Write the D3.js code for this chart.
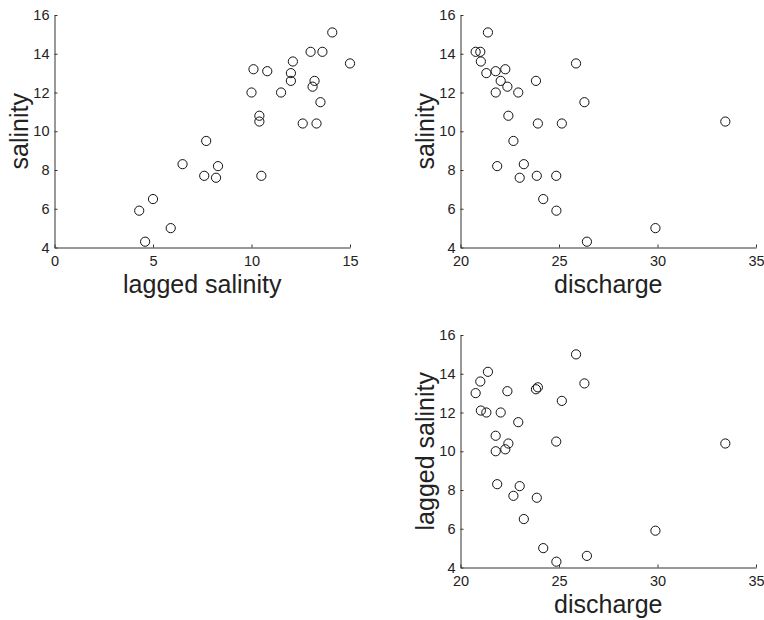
<!DOCTYPE html>
<html>
<head>
<meta charset="utf-8">
<script src="https://cdn.jsdelivr.net/npm/d3@7"></script>
<style>
  html, body { margin: 0; padding: 0; background: #fff; }
  svg { display: block; }
  text { font-family: "Liberation Sans", Arial, Helvetica, sans-serif; fill: #222; }
</style>
</head>
<body>
<svg id="chart" width="764" height="620"></svg>
<script>
// Salinity data (28 observations)
const laggedSalinity = [8.2, 7.6, 4.6, 4.3, 5.9, 5.0, 6.5, 8.3, 10.1, 13.2, 12.6, 10.4, 10.8, 13.1,
                        13.3, 10.4, 10.5, 7.7, 10.0, 12.0, 12.1, 13.6, 15.0, 13.5, 11.5, 12.0, 13.0, 14.1];
const discharge = [23.005, 23.873, 26.417, 24.868, 29.895, 24.200, 23.215, 21.862, 22.274, 23.830,
                   25.144, 22.430, 21.785, 22.380, 23.927, 33.443, 24.859, 22.686, 21.789, 22.041,
                   21.033, 21.005, 25.865, 26.290, 22.932, 21.313, 20.769, 21.393];
const salinity = [7.6, 7.7, 4.3, 5.9, 5.0, 6.5, 8.3, 8.2, 13.2, 12.6, 10.4, 10.8, 13.1, 12.3,
                  10.4, 10.5, 7.7, 9.5, 12.0, 12.6, 13.6, 14.1, 13.5, 11.5, 12.0, 13.0, 14.1, 15.1];

const salinityTicks = [4, 6, 8, 10, 12, 14, 16];
const laggedTicks = [0, 5, 10, 15];
const dischargeTicks = [20, 25, 30, 35];

const svg = d3.select("#chart");

const panels = [
  { x: laggedSalinity, y: salinity, xDom: [0, 15], yDom: [4, 16], xTicks: laggedTicks, yTicks: salinityTicks,
    xr: [54.5, 350], yr: [247.5, 15], xLabel: "lagged salinity", yLabel: "salinity" },
  { x: discharge, y: salinity, xDom: [20, 35], yDom: [4, 16], xTicks: dischargeTicks, yTicks: salinityTicks,
    xr: [460.5, 756], yr: [247.5, 15], xLabel: "discharge", yLabel: "salinity" },
  { x: discharge, y: laggedSalinity, xDom: [20, 35], yDom: [4, 16], xTicks: dischargeTicks, yTicks: salinityTicks,
    xr: [460.5, 756], yr: [567.5, 335], xLabel: "discharge", yLabel: "lagged salinity" }
];

panels.forEach(p => {
  const xs = d3.scaleLinear().domain(p.xDom).range(p.xr);
  const ys = d3.scaleLinear().domain(p.yDom).range(p.yr);
  const g = svg.append("g");

  const xAxis = d3.axisBottom(xs).tickValues(p.xTicks).tickSizeInner(-3).tickSizeOuter(0).tickPadding(8);
  const yAxis = d3.axisLeft(ys).tickValues(p.yTicks).tickSizeInner(-3).tickSizeOuter(0).tickPadding(5);

  const gx = g.append("g").attr("transform", `translate(0,${p.yr[0]})`).call(xAxis);
  const gy = g.append("g").attr("transform", `translate(${p.xr[0]},0)`).call(yAxis);

  [gx, gy].forEach(a => {
    a.attr("font-size", null).attr("font-family", null);
    a.select(".domain").attr("stroke", "#333").attr("stroke-width", 1);
    a.selectAll(".tick line").attr("stroke", "#333");
    a.selectAll(".tick text").style("font-size", "14.5px").attr("fill", "#222")
      .style("font-family", '"Liberation Sans", Arial, sans-serif');
  });

  g.append("text")
    .attr("x", (p.xr[0] + p.xr[1]) / 2)
    .attr("y", p.yr[0] + 45)
    .attr("text-anchor", "middle")
    .style("font-size", "25px")
    .text(p.xLabel);

  g.append("text")
    .attr("transform", `translate(${p.xr[0] - 27},${(p.yr[0] + p.yr[1]) / 2}) rotate(-90)`)
    .attr("text-anchor", "middle")
    .style("font-size", "25px")
    .text(p.yLabel);

  g.append("g").selectAll("circle")
    .data(p.x.map((v, i) => [v, p.y[i]]))
    .join("circle")
    .attr("cx", d => xs(d[0]))
    .attr("cy", d => ys(d[1]))
    .attr("r", 4.6)
    .attr("fill", "none")
    .attr("stroke", "#111")
    .attr("stroke-width", 1);
});
</script>
</body>
</html>
